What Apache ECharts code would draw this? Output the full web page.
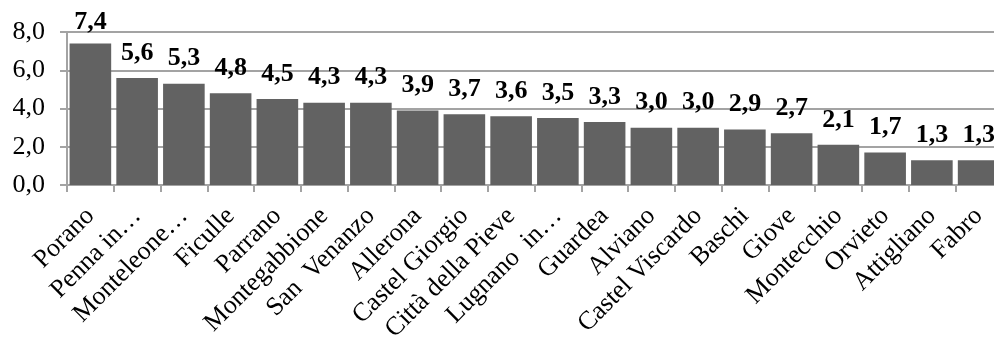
<!DOCTYPE html>
<html>
<head>
<meta charset="utf-8">
<script src="https://cdn.jsdelivr.net/npm/echarts@6/dist/echarts.min.js"></script>
<style>
  html, body { margin: 0; padding: 0; background: #fff; width: 994px; height: 338px; overflow: hidden; }
  #frame { position: relative; width: 994px; height: 338px; overflow: hidden; }
  /* the plot runs slightly past the right edge of the frame */
  #chart { position: absolute; left: 0; top: 0; width: 1003px; height: 338px; }
</style>
</head>
<body>
<div id="frame"><div id="chart"></div></div>
<script>
// Municipalities, ordered by value
const comuni = [
  'Porano', 'Penna in\u2026', 'Monteleone\u2026', 'Ficulle', 'Parrano',
  'Montegabbione', 'San  Venanzo', 'Allerona', 'Castel Giorgio', 'Città della Pieve',
  'Lugnano  in\u2026', 'Guardea', 'Alviano', 'Castel Viscardo', 'Baschi',
  'Giove', 'Montecchio', 'Orvieto', 'Attigliano', 'Fabro'
];
const valori = [7.4, 5.6, 5.3, 4.8, 4.5, 4.3, 4.3, 3.9, 3.7, 3.6, 3.5, 3.3, 3.0, 3.0, 2.9, 2.7, 2.1, 1.7, 1.3, 1.3];
const yTicks = [0, 2, 4, 6, 8];

const fmt = v => v.toFixed(1).replace('.', ',');
const serif = '"Liberation Serif", "Times New Roman", serif';
const lineGray = '#a3a3a3';

// the tallest bar's label sits closer to its bar so it stays inside the plot
const barData = valori.map((v, i) => i === 0 ? { value: v, label: { distance: 8 } } : v);

const chart = echarts.init(document.getElementById('chart'));
chart.setOption({
  backgroundColor: '#ffffff',
  animation: false,
  grid: {
    left: 67, right: 1, top: 32, bottom: 153,
    containLabel: false,
    outerBoundsMode: 'none'
  },
  xAxis: {
    type: 'category',
    data: comuni,
    axisLine: { show: true, lineStyle: { color: lineGray, width: 2 } },
    axisTick: { show: true, alignWithLabel: false, length: 7, lineStyle: { color: lineGray, width: 2 } },
    axisLabel: {
      rotate: 45,
      interval: 0,
      margin: 27,
      color: '#000',
      fontFamily: serif,
      fontSize: 26
    }
  },
  yAxis: {
    type: 'value',
    min: yTicks[0],
    max: yTicks[yTicks.length - 1],
    interval: yTicks[1] - yTicks[0],
    axisLine: { show: true, lineStyle: { color: lineGray, width: 2 } },
    axisTick: { show: true, length: 7, lineStyle: { color: lineGray, width: 2 } },
    splitLine: { show: true, lineStyle: { color: lineGray, width: 2 } },
    axisLabel: {
      color: '#000',
      fontFamily: serif,
      fontSize: 26,
      margin: 22,
      formatter: v => fmt(v)
    }
  },
  series: [{
    type: 'bar',
    data: barData,
    barCategoryGap: '11%',
    itemStyle: { color: '#626262' },
    label: {
      show: true,
      position: 'top',
      distance: 12,
      color: '#000',
      fontFamily: serif,
      fontWeight: 'bold',
      fontSize: 26,
      formatter: p => fmt(p.value)
    }
  }]
});
</script>
</body>
</html>
